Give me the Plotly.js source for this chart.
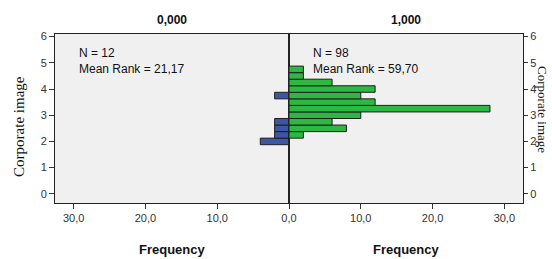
<!DOCTYPE html>
<html>
<head>
<meta charset="utf-8">
<script src="https://cdn.plot.ly/plotly-3.0.1.min.js"></script>
<style>html,body{margin:0;padding:0;background:#fff;}#chart{width:552px;height:259px;}</style>
</head>
<body>
<div id="chart"></div>
<script>
// Bin centres of "Corporate image" (bottom to top)
const binCenters = [2.0, 2.25, 2.5, 2.75, 3.0, 3.25, 3.5, 3.75, 4.0, 4.25, 4.5, 4.75];
// Frequencies per bin, group 0,000 (left panel) and 1,000 (right panel)
const freqGroup0 = [4, 2, 2, 2, 0, 0, 0, 2, 0, 0, 0, 0];
const freqGroup1 = [0, 2, 8, 6, 10, 28, 12, 10, 12, 6, 2, 2];
const groupNames = ['0,000', '1,000'];
const groupN = [12, 98];
const meanRanks = ['21,17', '59,70'];
const yTicks = [0, 1, 2, 3, 4, 5, 6];
const xTicks = [0, 10, 20, 30];
const yLabel = 'Corporate image';
const xLabel = 'Frequency';

const SANS = '"Liberation Sans", Arial, sans-serif';
const SERIF = '"Liberation Serif", "Times New Roman", serif';
const binWidth = 0.25;

const traces = [
  {
    type: 'bar', orientation: 'h', x: freqGroup0, y: binCenters,
    width: binWidth, xaxis: 'x', yaxis: 'y',
    marker: {color: '#3D56A6', line: {color: '#1e1e1e', width: 1}},
    hoverinfo: 'skip'
  },
  {
    type: 'bar', orientation: 'h', x: freqGroup1, y: binCenters,
    width: binWidth, xaxis: 'x2', yaxis: 'y2',
    marker: {color: '#2DB843', line: {color: '#1e1e1e', width: 1}},
    hoverinfo: 'skip'
  }
];

const tickFont = {family: SANS, size: 11, color: '#333'};
const axisCommon = {
  showgrid: false, zeroline: false, showline: true, mirror: true,
  linecolor: '#222', linewidth: 1, ticks: 'outside', ticklen: 5,
  tickcolor: '#333', tickfont: tickFont, fixedrange: true
};

const layout = {
  width: 552, height: 259,
  margin: {l: 55, r: 29, t: 34, b: 56},
  paper_bgcolor: '#ffffff', plot_bgcolor: '#F0F0F0',
  showlegend: false, separators: ',.',
  xaxis: Object.assign({}, axisCommon, {
    domain: [0, 0.5], range: [32.6, 0], anchor: 'y',
    tickvals: xTicks, tickformat: '.1f'
  }),
  xaxis2: Object.assign({}, axisCommon, {
    domain: [0.5, 1], range: [0, 32.6], anchor: 'y2',
    tickvals: xTicks.slice(1), tickformat: '.1f'
  }),
  yaxis: Object.assign({}, axisCommon, {
    range: [-0.35, 6.1], anchor: 'x', tickvals: yTicks, tickformat: 'd'
  }),
  yaxis2: Object.assign({}, axisCommon, {
    range: [-0.35, 6.1], anchor: 'x2', side: 'right', tickvals: yTicks, tickformat: 'd',
    ticklen: 4, ticklabelstandoff: 0
  }),
  annotations: [
    {text: '<b>' + groupNames[0] + '</b>', xref: 'paper', yref: 'paper', x: 0.25, y: 1.083,
     xanchor: 'center', yanchor: 'middle', showarrow: false, font: {family: SANS, size: 12, color: '#111'}},
    {text: '<b>' + groupNames[1] + '</b>', xref: 'paper', yref: 'paper', x: 0.75, y: 1.083,
     xanchor: 'center', yanchor: 'middle', showarrow: false, font: {family: SANS, size: 12, color: '#111'}},
    {text: '<b>' + xLabel + '</b>', xref: 'paper', yref: 'paper', x: 0.25, y: -0.275,
     xanchor: 'center', yanchor: 'middle', showarrow: false, font: {family: SANS, size: 13, color: '#111'}},
    {text: '<b>' + xLabel + '</b>', xref: 'paper', yref: 'paper', x: 0.75, y: -0.275,
     xanchor: 'center', yanchor: 'middle', showarrow: false, font: {family: SANS, size: 13, color: '#111'}},
    {text: yLabel, xref: 'paper', yref: 'paper', x: -0.077, y: 0.456, textangle: -90,
     xanchor: 'center', yanchor: 'middle', showarrow: false, font: {family: SERIF, size: 15, color: '#111'}},
    {text: yLabel, xref: 'paper', yref: 'paper', x: 1.0427, y: 0.55, textangle: 90, borderpad: 0,
     xanchor: 'center', yanchor: 'middle', showarrow: false, font: {family: SERIF, size: 13, color: '#111'}},
    {text: 'N = ' + groupN[0] + '<br>Mean Rank = ' + meanRanks[0], xref: 'paper', yref: 'paper',
     x: 0.047, y: 0.94, xanchor: 'left', yanchor: 'top', align: 'left', showarrow: false,
     font: {family: SANS, size: 12, color: '#111'}},
    {text: 'N = ' + groupN[1] + '<br>Mean Rank = ' + meanRanks[1], xref: 'paper', yref: 'paper',
     x: 0.548, y: 0.94, xanchor: 'left', yanchor: 'top', align: 'left', showarrow: false,
     font: {family: SANS, size: 12, color: '#111'}}
  ]
};

Plotly.newPlot('chart', traces, layout, {displayModeBar: false, staticPlot: true});
</script>
</body>
</html>
